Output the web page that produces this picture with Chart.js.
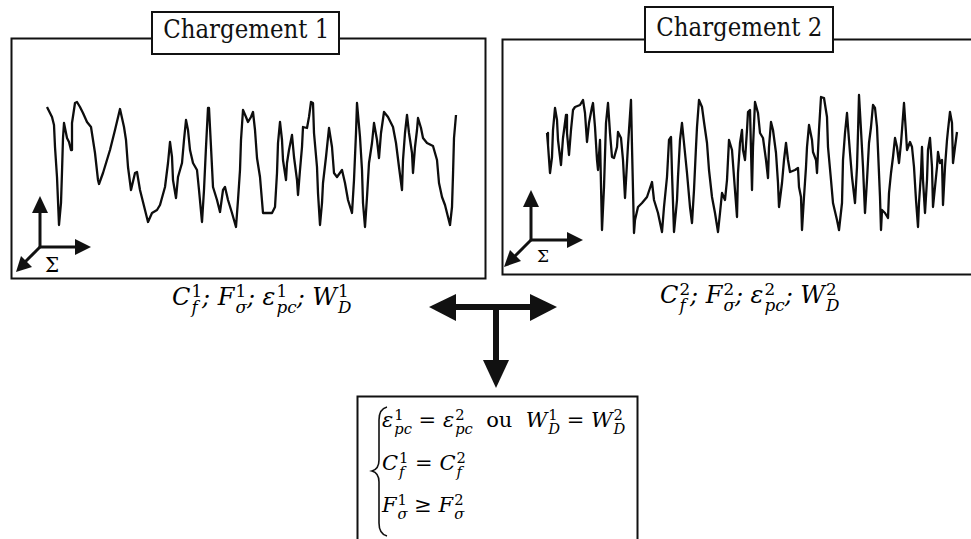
<!DOCTYPE html>
<html>
<head>
<meta charset="utf-8">
<script src="https://cdn.jsdelivr.net/npm/chart.js@4.4.0/dist/chart.umd.min.js"></script>
<style>
body { margin: 0; width: 971px; height: 539px; overflow: hidden; background: #fff; position: relative; color: #111; }
.wrap { position: absolute; }
.title { position: absolute; font: 26px "DejaVu Serif", serif; line-height: 26px; text-align: center; transform: scaleX(0.88); white-space: nowrap; }
.sigma { position: absolute; font-family: "DejaVu Serif", serif; white-space: nowrap; color: #000; }
.math { position: absolute; font: italic 24px "DejaVu Serif", serif; line-height: 24px; white-space: nowrap; color: #000; }
.box { font-size: 21px; line-height: 21px; }
.ss { display: inline-block; font-size: 0.7em; line-height: 0.95; vertical-align: -0.45em; margin-left: 1px; }
.ss span { display: block; }
.ss .sp { font-style: normal; }
.up { font-style: normal; }
</style>
</head>
<body>

<svg width="971" height="539" style="position:absolute;left:0;top:0">
  <g fill="none" stroke="#111" stroke-width="2">
    <rect x="11.5" y="38.5" width="474" height="240"/>
    <rect x="502.5" y="39.5" width="480" height="235"/>
    <rect x="357.5" y="396.5" width="280" height="160"/>
  </g>
  <g fill="#fff" stroke="#111" stroke-width="2">
    <rect x="152" y="12" width="187" height="42"/>
    <rect x="645" y="7" width="188" height="45"/>
  </g>
  <!-- reperes -->
  <g stroke="#111" stroke-width="3" fill="none">
    <line x1="40" y1="247" x2="40" y2="212"/>
    <line x1="40" y1="247" x2="76" y2="247"/>
    <line x1="40" y1="247" x2="25" y2="262"/>
    <line x1="531" y1="240" x2="531" y2="206"/>
    <line x1="531" y1="240" x2="568" y2="240"/>
    <line x1="531" y1="240" x2="514" y2="257"/>
  </g>
  <g fill="#111">
    <polygon points="32,213 48,213 40,196"/>
    <polygon points="75,239 75,255 91,247"/>
    <polygon points="32,267 21,256 16,272"/>
    <polygon points="523,207 539,207 531,190"/>
    <polygon points="567,232 567,248 583,240"/>
    <polygon points="521,261 510,250 504,267"/>
    <!-- fleche en T -->
    <rect x="452" y="304" width="82" height="6"/>
    <polygon points="429,307 456,294 456,321"/>
    <polygon points="557,307 530,294 530,321"/>
    <rect x="493" y="306" width="6" height="56"/>
    <polygon points="483,360 509,360 496,388"/>
  </g>
  <path d="M387,407 Q379,409 379,420 L379,460 Q379,469 372,471 Q379,473 379,482 L379,523 Q379,534 387,536" fill="none" stroke="#111" stroke-width="1.6"/>
</svg>

<div class="wrap" style="left:40px;top:90px;width:425px;height:148px"><canvas id="chart1"></canvas></div>
<div class="wrap" style="left:540px;top:86px;width:425px;height:154px"><canvas id="chart2"></canvas></div>

<div class="title" style="left:152px;top:16px;width:187px">Chargement 1</div>
<div class="title" style="left:645px;top:14px;width:188px">Chargement 2</div>
<div class="sigma" style="left:45px;top:255px;font-size:20px;line-height:20px">Σ</div>
<div class="sigma" style="left:537px;top:248px;font-size:17px;line-height:17px">Σ</div>

<div class="math" id="lab1" style="left:172px;top:284px"></div>
<div class="math" id="lab2" style="left:660px;top:282px"></div>
<div class="math box" id="eq1" style="left:382px;top:408px"></div>
<div class="math box" id="eq2" style="left:382px;top:451px"></div>
<div class="math box" id="eq3" style="left:382px;top:493px"></div>

<script>
// Chargement 1 : instants (temps) et niveaux de contrainte
const temps1 = [0,5,7,8,10,12,14,15,16,17,20,22,24,25,28,30,33,36,40,44,
  46,48,51,52,56,63,68,73,77,79,81,84,88,90,93,98,101,105,110,113,
  118,121,123,125,126,129,131,135,137,139,141,143,146,150,152,155,157,159,161,162,
  164,166,170,173,176,178,181,185,189,191,193,194,196,199,201,204,206,208,210,213,
  216,225,228,230,231,233,235,236,239,240,242,245,247,250,251,253,255,256,260,262,
  264,266,267,270,271,273,275,276,279,282,285,287,290,295,298,301,305,307,309,310,
  313,315,316,318,320,322,325,327,330,332,334,337,341,346,349,352,355,356,358,360,
  362,365,366,368,370,371,374,376,380,386,390,392,395,398,401,403,405,406,407,409];
const contrainte1 = [125,115,107,85,55,7,29,60,94,109,94,90,82,109,129,130,125,119,110,105,
  92,79,52,48,59,82,102,123,105,92,65,42,59,60,42,22,10,19,22,27,
  45,69,90,75,52,34,55,69,92,112,102,82,69,62,42,10,42,85,124,124,
  85,45,32,20,42,45,32,19,5,32,62,92,122,115,110,115,120,102,74,55,
  19,19,25,59,89,110,92,72,52,69,82,97,75,52,37,62,85,105,104,115,
  130,129,99,65,39,7,29,49,75,104,85,59,55,62,49,32,19,52,99,129,
  95,62,29,5,35,69,89,109,92,74,99,120,115,105,89,65,42,72,99,117,
  99,79,59,85,102,114,104,94,89,86,72,49,35,27,15,7,25,57,94,117];

// Chargement 2
const temps2 = [1,2,4,6,7,9,11,12,15,17,20,21,23,25,27,29,34,37,39,41,
  43,46,47,49,51,52,54,56,58,60,62,64,66,68,71,72,75,77,79,81,
  82,85,86,88,89,92,96,101,106,108,112,116,118,121,123,125,126,128,131,132,
  134,136,138,141,144,146,148,150,151,153,156,158,161,163,166,169,172,174,176,179,
  181,183,186,188,191,192,194,196,197,199,201,202,204,206,207,209,212,214,217,220,
  222,223,225,227,230,232,233,236,238,240,242,244,249,252,253,255,256,258,260,261,
  263,266,267,270,271,273,275,278,281,282,285,287,291,293,296,297,299,301,302,304,
  306,309,311,312,313,315,317,319,321,323,325,327,329,331,332,334,335,336,339,342,
  343,345,347,349,351,353,355,356,358,360,361,364,366,368,370,372,373,375,376,377,
  379,381,382,384,386,387,389,391,392,394,396,397,399,401,402,404,406,407,409,411];
const contrainte2 = [103,91,63,79,106,128,116,96,71,98,121,103,81,106,126,129,131,136,123,94,
  113,129,133,109,76,66,96,6,49,113,133,103,79,78,89,104,98,76,38,73,
  91,136,89,3,16,29,33,39,54,36,23,4,29,59,96,99,63,4,36,59,
  96,113,93,63,29,13,46,89,109,136,129,114,93,66,39,23,4,23,43,36,
  56,96,86,59,19,63,93,106,86,76,106,124,126,46,89,134,123,103,98,76,
  58,89,114,106,83,53,29,53,76,93,76,64,66,68,49,39,6,39,69,89,
  111,96,84,76,63,106,139,138,119,89,56,33,16,6,33,76,103,123,109,83,
  59,33,69,103,141,106,69,23,56,93,109,131,128,109,86,39,6,26,23,18,
  43,63,79,98,89,73,93,106,133,103,86,94,89,69,36,9,33,63,89,56,
  23,56,86,98,69,29,49,69,84,73,76,31,69,96,106,124,113,73,89,104];

function signal(id, temps, valeurs, xmin, xmax, ymin, ymax) {
  const ctx = document.getElementById(id);
  return new Chart(ctx, {
    type: "line",
    data: {
      datasets: [
        {
          data: temps.map((t, n) => ({ x: t, y: valeurs[n] })),
          borderColor: "#0d0d0d",
          borderWidth: 2.3,
          borderJoinStyle: "round",
          pointRadius: 0,
          tension: 0,
          clip: false,
        },
      ],
    },
    options: {
      responsive: true,
      maintainAspectRatio: false,
      animation: false,
      events: [],
      layout: { padding: 0 },
      plugins: { legend: { display: false }, tooltip: { enabled: false } },
      scales: {
        x: { type: "linear", display: false, min: xmin, max: xmax },
        y: { display: false, min: ymin, max: ymax },
      },
    },
  });
}

signal("chart1", temps1, contrainte1, -7, 418, -6, 142);
signal("chart2", temps2, contrainte2, -6, 419, -4, 150);

// notations
function sym(base, sup, sub) {
  return base + '<span class="ss"><span class="sp">' + sup + "</span><span>" + sub + "</span></span>";
}
const sep = "; ";
document.getElementById("lab1").innerHTML =
  sym("C", "1", "f") + sep + sym("F", "1", "σ") + sep + sym("ε", "1", "pc") + sep + sym("W", "1", "D");
document.getElementById("lab2").innerHTML =
  sym("C", "2", "f") + sep + sym("F", "2", "σ") + sep + sym("ε", "2", "pc") + sep + sym("W", "2", "D");
document.getElementById("eq1").innerHTML =
  sym("ε", "1", "pc") + '<span class="up"> = </span>' + sym("ε", "2", "pc") +
  '<span class="up">&nbsp;&nbsp;ou&nbsp;&nbsp;</span>' + sym("W", "1", "D") + '<span class="up"> = </span>' + sym("W", "2", "D");
document.getElementById("eq2").innerHTML = sym("C", "1", "f") + '<span class="up"> = </span>' + sym("C", "2", "f");
document.getElementById("eq3").innerHTML = sym("F", "1", "σ") + '<span class="up"> ≥ </span>' + sym("F", "2", "σ");
</script>
</body>
</html>
